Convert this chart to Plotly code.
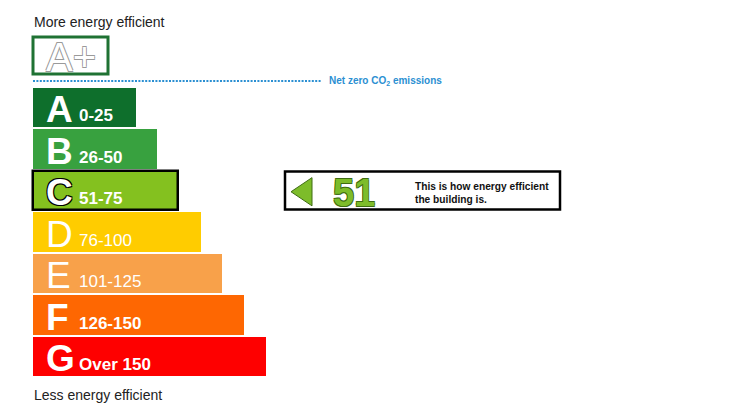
import plotly.graph_objects as go

# ---- data ----
bands = ["A", "B", "C", "D", "E", "F", "G"]
band_ranges = ["0-25", "26-50", "51-75", "76-100", "101-125", "126-150", "Over 150"]
band_lower = [0, 26, 51, 76, 101, 126, 151]
band_length = [103, 124, 145, 168, 189, 211, 233]
band_colors = ["#0e6f2c", "#38a13f", "#84c11f", "#ffcc00", "#f8a14a", "#fe6702", "#fe0000"]
band_bold = [True, True, True, False, False, True, True]
rating = 51
rating_text = "This is how energy efficient<br>the building is."
top_label = "More energy efficient"
bottom_label = "Less energy efficient"
netzero_label = "<b>Net zero CO<sub>2</sub> emissions</b>"

FONT = "Liberation Sans, Arial, sans-serif"
OFF = 8               # page body margin
W, H = 724, 397       # figure size (page is 740x405 incl. margin)
X0 = 33               # page pixel where bars start
PITCH = 41.5
ROW0 = 107.5


def py(p):
    """page pixel row -> y data value"""
    return (p - ROW0) / PITCH


def px_paper(p):
    return (p - OFF) / W


def py_paper(p):
    return 1 - (p - OFF) / H


def outline(c, w=1):
    return f"-{w}px -{w}px 0 {c}, {w}px -{w}px 0 {c}, -{w}px {w}px 0 {c}, {w}px {w}px 0 {c}"


rating_idx = max(i for i, lo in enumerate(band_lower) if rating >= lo)
idx = list(range(len(bands)))

fig = go.Figure()
fig.add_trace(go.Bar(
    y=idx, x=band_length, orientation="h", width=0.95,
    marker=dict(color=band_colors,
                line=dict(color="black", width=[2.5 if i == rating_idx else 0 for i in idx])),
    hoverinfo="skip", showlegend=False,
))

ann = []
for i, (b, r, bold) in enumerate(zip(bands, band_ranges, band_bold)):
    ann.append(dict(x=11, y=i, xref="x", yref="y", text=b, showarrow=False,
                    xanchor="left", yanchor="middle", yshift=-2,
                    font=dict(family=FONT, size=37, color="white",
                              weight="bold" if bold else "normal",
                              shadow=outline("#000") if i == rating_idx else "none")))
    ann.append(dict(x=44, y=i, xref="x", yref="y", text=r, showarrow=False,
                    xanchor="left", yanchor="middle", yshift=-8,
                    font=dict(family=FONT, size=17, color="white",
                              weight="bold" if bold else "normal")))

# A+ box
shapes = [dict(type="rect", xref="x", yref="y", x0=0, x1=75, y0=py(37), y1=py(74),
               line=dict(color="#1f7233", width=3), fillcolor="white", layer="below")]
ann.append(dict(x=37.5, y=py(57), xref="x", yref="y", text="A+", showarrow=False,
                xanchor="center", yanchor="middle",
                font=dict(family=FONT, size=40, color="white", shadow=outline("#9a9a9a", 0.8))))

# net zero dotted line
shapes.append(dict(type="line", xref="x", yref="y", x0=0, x1=289, y0=py(81), y1=py(81),
                   line=dict(color="#2b8fd2", width=2.2, dash="2px,1.4px")))
ann.append(dict(x=294, y=py(81), xref="x", yref="y", text=netzero_label, showarrow=False,
                xanchor="left", yanchor="middle",
                font=dict(family=FONT, size=10, color="#2b8fd2")))

# rating indicator
shapes.append(dict(type="rect", xref="x", yref="y", x0=252, x1=527,
                   y0=rating_idx - 0.46, y1=rating_idx + 0.46,
                   line=dict(color="black", width=2.5), fillcolor="white"))
shapes.append(dict(type="path", xref="x", yref="y",
                   path=f"M 258,{rating_idx + 0.03} L 279,{rating_idx - 0.31} L 279,{rating_idx + 0.37} Z",
                   fillcolor="#7dbc2a", line=dict(color="#3e6c12", width=1)))
ann.append(dict(x=298, y=rating_idx, xref="x", yref="y", text=str(rating), showarrow=False,
                xanchor="left", yanchor="middle", yshift=-2,
                font=dict(family=FONT, size=38, color="#7dbc2a", weight="bold",
                          shadow=outline("#3e6c12", 0.7))))
ann.append(dict(x=380, y=rating_idx, xref="x", yref="y", text=rating_text, showarrow=False,
                xanchor="left", yanchor="middle", yshift=-2, align="left",
                font=dict(family=FONT, size=10.2, color="#111", weight="bold")))

# headers
ann.append(dict(x=px_paper(32), y=py_paper(22), xref="paper", yref="paper", text=top_label,
                showarrow=False, xanchor="left", yanchor="middle",
                font=dict(family=FONT, size=14, color="#222")))
ann.append(dict(x=px_paper(32), y=py_paper(395), xref="paper", yref="paper", text=bottom_label,
                showarrow=False, xanchor="left", yanchor="middle",
                font=dict(family=FONT, size=14, color="#222")))

fig.update_layout(
    width=W, height=H, margin=dict(l=0, r=0, t=0, b=0),
    paper_bgcolor="white", plot_bgcolor="white",
    xaxis=dict(range=[-(X0 - OFF), W - (X0 - OFF)], visible=False, fixedrange=True),
    yaxis=dict(range=[py(OFF + H), py(OFF)], visible=False, fixedrange=True),
    shapes=shapes, annotations=ann, bargap=0, showlegend=False,
    font=dict(family=FONT),
)
fig.write_html("out.html", config={"displayModeBar": False})
